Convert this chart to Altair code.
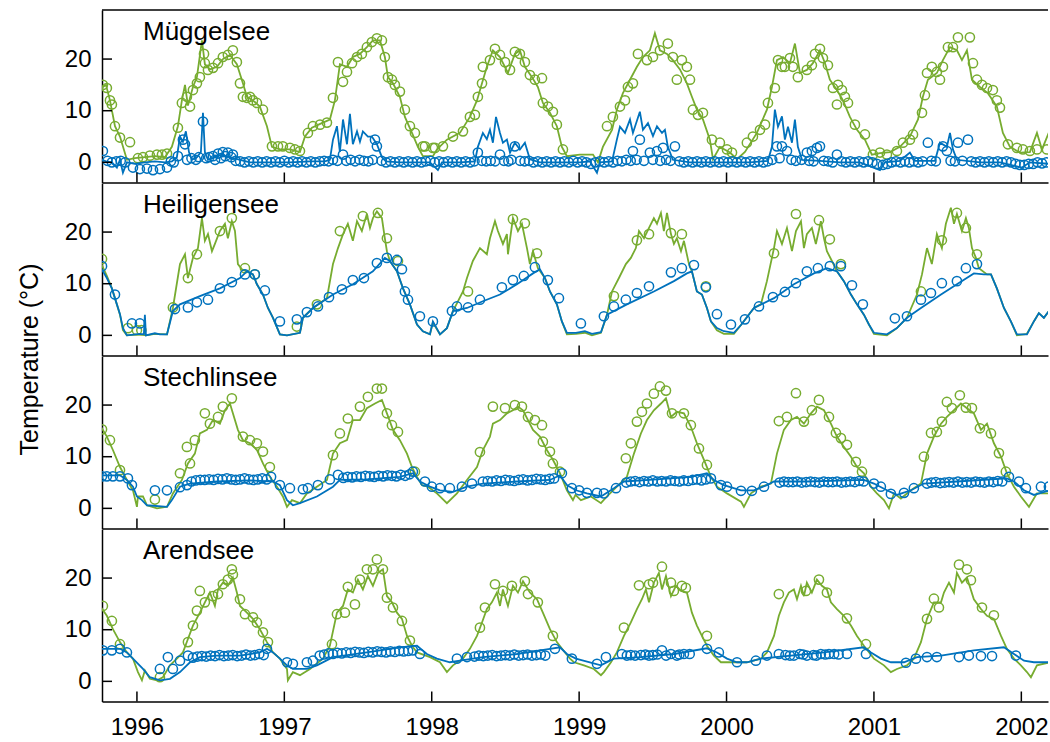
import altair as alt
import pandas as pd

# ---------------- data (time in decimal years, temperature in deg C) ----------------
YEARS = [1996, 1997, 1998, 1999, 2000, 2001, 2002]
Y_TICKS = [0, 10, 20]
LAKES = ["Müggelsee", "Heiligensee", "Stechlinsee", "Arendsee"]

# Müggelsee
MUG_SURF_MODEL = [(1995.763,14.5),(1995.790,15),(1995.817,12),(1995.851,7),(1995.885,5),(1995.932,0.5),(1995.986,0.8),(1996.054,1),(1996.122,1.2),(1996.190,1),
(1996.237,3),(1996.278,7),(1996.305,12),(1996.326,15),(1996.346,11),(1996.380,14.6),(1996.407,16.5),(1996.441,23.6),(1996.461,19),(1996.495,18),
(1996.543,18.5),(1996.583,20),(1996.631,20.8),(1996.678,19),(1996.719,15.3),(1996.746,12.7),(1996.787,12),(1996.834,10.8),(1996.882,7),(1996.916,3),
(1996.970,2.5),(1997.038,2.5),(1997.106,2),(1997.140,5),(1997.187,6.7),(1997.262,7.7),(1997.309,8.3),(1997.343,12),(1997.377,19),(1997.425,18.5),
(1997.465,20.4),(1997.513,21),(1997.560,22.3),(1997.601,23.6),(1997.649,23.6),(1997.682,20.4),(1997.703,16.5),(1997.737,15.3),(1997.784,12.7),(1997.818,8.8),
(1997.866,5.7),(1997.906,3),(1997.940,1.2),(1998.008,1.2),(1998.035,2.5),(1998.103,4.4),(1998.191,5.7),(1998.259,8.8),(1998.307,12),(1998.341,15.3),
(1998.374,18.5),(1998.415,21.7),(1998.463,20.4),(1998.517,17.3),(1998.564,21),(1998.598,21.7),(1998.632,18.5),(1998.680,16.5),(1998.720,14.6),(1998.754,11.5),
(1998.802,9.6),(1998.849,7),(1998.883,3),(1998.917,1.2),(1999.005,1.5),(1999.094,1.5),(1999.128,0),(1999.161,3),(1999.223,6.3),(1999.256,10.2),
(1999.297,13.4),(1999.345,16),(1999.392,18.5),(1999.433,20.4),(1999.480,21.7),(1999.514,25),(1999.548,21.7),(1999.596,21),(1999.636,19.8),(1999.684,18),
(1999.731,15.3),(1999.765,12.7),(1999.799,10.2),(1999.840,8.3),(1999.887,4.4),(1999.908,0.6),(1999.955,3),(2000.023,1.9),(2000.071,0.6),(2000.125,2),
(2000.206,5.7),(2000.274,10.2),(2000.308,14.6),(2000.342,19.8),(2000.383,20.4),(2000.430,19.2),(2000.464,23),(2000.498,17.3),(2000.545,17.9),(2000.586,19.2),
(2000.634,21.7),(2000.668,19.2),(2000.701,16),(2000.749,14),(2000.790,12),(2000.837,8.8),(2000.885,6.3),(2000.939,4.4),(2000.986,1.5),(2001.041,1.8),
(2001.109,2),(2001.176,3),(2001.244,5),(2001.299,8.3),(2001.332,12.7),(2001.366,16),(2001.427,17.3),(2001.468,19.8),(2001.516,22.3),(2001.563,21.7),
(2001.597,19.8),(2001.631,21.7),(2001.665,16),(2001.719,14.6),(2001.773,13.4),(2001.834,10.8),(2001.875,5.7),(2001.923,3),(2001.990,1.9),(2002.058,2),
(2002.106,5.7),(2002.140,2.5),(2002.194,6.3)]

MUG_BOT_MODEL = [(1995.763,0.5),(1995.790,0.2),(1995.830,0),(1995.864,-1),(1995.885,0.5),(1995.905,-2),(1995.932,0),(1995.986,-0.3),(1996.054,0),(1996.122,0.2),
(1996.190,0),(1996.237,0.2),(1996.271,1),(1996.292,5),(1996.312,4),(1996.332,6),(1996.353,2),(1996.373,0.5),(1996.407,1),(1996.434,2),
(1996.448,9.6),(1996.461,2),(1996.482,0.5),(1996.529,1),(1996.577,1.5),(1996.631,1),(1996.699,0.5),(1996.767,0),(1996.902,0),(1997.038,0),
(1997.174,0.2),(1997.275,0.2),(1997.309,0.5),(1997.330,4.4),(1997.357,7),(1997.377,2),(1997.398,8.3),(1997.425,3.5),(1997.445,9.4),(1997.465,3.5),
(1997.493,6),(1997.513,4),(1997.533,6),(1997.567,5),(1997.594,5),(1997.628,3.5),(1997.662,1),(1997.689,0.2),(1997.784,0),(1997.920,0),
(1997.988,0),(1998.042,-1.5),(1998.069,0),(1998.191,0),(1998.293,0.2),(1998.313,3),(1998.347,5.7),(1998.374,4.5),(1998.395,6.3),(1998.415,3.8),
(1998.436,8.8),(1998.463,5.7),(1998.483,3.8),(1998.510,4.4),(1998.531,1.9),(1998.564,3.8),(1998.598,2.5),(1998.632,3.8),(1998.666,0.6),(1998.734,0),
(1998.870,0),(1999.005,0),(1999.073,0.2),(1999.121,-2),(1999.141,0),(1999.223,0.2),(1999.256,4.4),(1999.277,6.9),(1999.311,5.7),(1999.345,8.3),
(1999.365,5.7),(1999.412,9.8),(1999.433,6.3),(1999.467,7.6),(1999.501,5.1),(1999.528,7),(1999.562,5.7),(1999.582,6.3),(1999.602,3),(1999.636,0.5),
(1999.752,0),(1999.887,0),(2000.023,0),(2000.159,0),(2000.281,0.3),(2000.308,3),(2000.328,10.2),(2000.349,6.9),(2000.376,8.9),(2000.396,4.4),
(2000.417,6.9),(2000.444,3.8),(2000.464,8.3),(2000.484,3),(2000.512,0.5),(2000.634,0.3),(2000.769,0),(2000.905,0),(2001.041,-1.5),(2001.075,0),
(2001.176,0.3),(2001.244,1.9),(2001.278,0.3),(2001.414,0.3),(2001.448,3.8),(2001.495,3),(2001.516,5.7),(2001.536,2.5),(2001.563,0.5),(2001.719,0),
(2001.855,0),(2002.004,-1),(2002.058,0),(2002.194,-0.3)]

MUG_SURF_OBS = [(1995.769,15),(1995.796,14.4),(1995.817,12),(1995.830,11.2),(1995.851,7),(1995.885,4.8),(1995.953,3.9),(1996.007,0.8),(1996.041,1),(1996.088,1.3),
(1996.136,1.5),(1996.170,1.5),(1996.204,1.7),(1996.278,6.7),(1996.305,11.5),(1996.339,12.7),(1996.360,10.8),(1996.380,14),(1996.407,15.3),(1996.427,16.5),
(1996.455,21),(1996.461,19.2),(1996.482,17.9),(1996.516,18.3),(1996.550,19.2),(1996.583,20.4),(1996.617,20.8),(1996.651,21.7),(1996.678,19.4),(1996.699,15.3),
(1996.719,12.7),(1996.746,12.5),(1996.767,12.7),(1996.787,12),(1996.814,11.5),(1996.855,10.2),(1996.916,3.1),(1996.957,3.1),(1996.990,3.1),(1997.038,2.8),
(1997.072,2.5),(1997.106,2.2),(1997.160,5.7),(1997.194,7),(1997.242,7.3),(1997.289,7.7),(1997.330,12.5),(1997.364,19.4),(1997.398,15.6),(1997.425,17.5),
(1997.459,19.2),(1997.493,20.4),(1997.526,21),(1997.560,22.3),(1997.594,23.3),(1997.628,24),(1997.662,23.6),(1997.682,20.4),(1997.703,16.5),(1997.730,16),
(1997.750,15),(1997.784,13.7),(1997.818,10.2),(1997.852,7),(1997.886,5.7),(1997.940,3.1),(1997.954,3.1),(1998.008,2.8),(1998.022,2.8),(1998.076,3.1),
(1998.144,5),(1998.212,6),(1998.259,8.8),(1998.293,9.2),(1998.313,12.7),(1998.341,15.3),(1998.347,18.5),(1998.395,19.8),(1998.429,22),(1998.463,20.8),
(1998.497,19.4),(1998.531,17.9),(1998.564,21.4),(1998.598,21),(1998.632,19.4),(1998.666,16.9),(1998.700,16),(1998.748,16.3),(1998.754,11.5),(1998.788,10.8),
(1998.822,9.8),(1998.849,7.3),(1998.890,2.5),(1999.189,7),(1999.229,8.8),(1999.277,10.8),(1999.311,12),(1999.331,14.6),(1999.365,15.3),(1999.399,21),
(1999.460,19.8),(1999.501,20.4),(1999.548,21.7),(1999.602,23),(1999.636,20.4),(1999.663,16),(1999.697,19.8),(1999.731,18.5),(1999.752,16),(1999.772,10.2),
(1999.806,9.2),(1999.840,9.6),(1999.901,4.4),(1999.955,3.8),(2000.003,2.5),(2000.037,1.9),(2000.138,3.8),(2000.179,5),(2000.227,6.3),(2000.261,7.3),
(2000.281,11.5),(2000.328,14.4),(2000.349,19.8),(2000.376,18.5),(2000.396,18.5),(2000.430,20.2),(2000.450,18.5),(2000.484,16.5),(2000.545,17.9),(2000.579,18.8),
(2000.600,21),(2000.634,22),(2000.654,20.2),(2000.688,18.8),(2000.722,14.4),(2000.749,11.2),(2000.756,15),(2000.783,14),(2000.803,12.7),(2000.824,11.5),
(2000.871,7.3),(2000.939,5.4),(2000.993,1.5),(2001.041,1.9),(2001.088,1.5),(2001.156,2.2),(2001.197,3.8),(2001.244,4.4),(2001.265,5.4),(2001.326,9.6),
(2001.346,13),(2001.360,17.3),(2001.393,18.5),(2001.427,17.5),(2001.448,16),(2001.468,18.5),(2001.502,22.3),(2001.536,22.3),(2001.570,24.2),(2001.651,24.2),
(2001.672,19.2),(2001.699,16),(2001.733,15),(2001.767,14.4),(2001.807,14),(2001.834,12),(2001.855,10.6),(2001.909,3.5),(2001.970,2.8),(2002.011,2.5),
(2002.058,2.2),(2002.106,2.5),(2002.174,2.5)]

MUG_BOT_OBS_RAISED = [(1995.769,2.2),(1995.973,-1),(1996.020,-1.3),(1996.068,-1.2),(1996.109,-1.5),(1996.156,-1.3),(1996.204,-1),(1996.278,1.2),(1996.312,4.4),(1996.326,3.5),
(1996.448,7.9),(1996.516,1.2),(1996.550,1.7),(1996.583,2),(1996.617,1.9),(1996.651,1.5),(1997.398,1.5),(1997.615,4.4),(1997.628,3.1),(1998.313,1.9),
(1998.463,1.5),(1998.564,3.1),(1999.365,2.2),(1999.412,4.4),(1999.480,1.9),(1999.528,2.2),(1999.569,2.8),(1999.650,3.1),(2000.342,3.1),(2000.376,3.1),
(2000.410,2.2),(2000.545,1.9),(2000.579,2.2),(2000.613,2.8),(2000.634,3.1),(2000.749,1.5),(2001.366,3.8),(2001.468,3.1),(2001.495,2.2),(2001.570,3.8),
(2001.638,4.4)]

MUG_BOT_OBS_BASE = [(1995.80,0.3),(1995.83,0),(1995.86,0.2),(1995.89,0.3),(1995.92,0),(1996.23,0.2),(1996.25,0),(1996.34,0.5),(1996.37,0.8),(1996.40,0.5),
(1996.42,1),(1996.47,0.8),(1996.49,1),(1996.53,0.5),(1996.57,0.8),(1996.60,1.2),(1996.64,1),(1996.67,0.3),(1996.70,0.2),(1996.73,0),
(1996.76,0.2),(1996.79,0),(1996.82,0.2),(1996.85,0),(1996.88,0.2),(1996.91,0),(1996.94,0.2),(1996.97,0),(1997.00,0.3),(1997.03,0),
(1997.06,0.2),(1997.09,0),(1997.12,0.2),(1997.15,0),(1997.18,0.2),(1997.21,0),(1997.24,0.2),(1997.27,0.3),(1997.30,0.2),(1997.33,0.5),
(1997.36,0.3),(1997.42,0.3),(1997.45,0.5),(1997.48,0.2),(1997.51,0.5),(1997.54,0.3),(1997.57,0.2),(1997.60,0.5),(1997.66,0.3),(1997.69,0),
(1997.72,0.2),(1997.75,0),(1997.78,0.2),(1997.81,0),(1997.84,0.2),(1997.87,0),(1997.90,0.2),(1997.93,0),(1997.96,0.2),(1997.99,0.3),
(1998.02,0),(1998.05,0.2),(1998.08,0),(1998.11,0.2),(1998.14,0),(1998.17,0.2),(1998.20,0),(1998.23,0.2),(1998.26,0),(1998.29,0.2),
(1998.34,0.3),(1998.37,0.2),(1998.40,0.3),(1998.43,0.2),(1998.49,0.3),(1998.52,0.2),(1998.54,0.5),(1998.60,0.3),(1998.63,0.2),(1998.66,0.3),
(1998.69,0),(1998.72,0.2),(1998.75,0),(1998.78,0.2),(1998.81,0),(1998.84,0.2),(1998.87,0),(1998.90,0.2),(1998.93,0),(1998.96,0.3),
(1998.99,0),(1999.02,0.2),(1999.05,0),(1999.08,-0.3),(1999.11,0),(1999.14,0.2),(1999.17,0),(1999.20,0.2),(1999.23,0),(1999.26,0.3),
(1999.29,0.2),(1999.32,0.5),(1999.35,0.3),(1999.39,0.5),(1999.44,0.3),(1999.50,0.5),(1999.55,0.3),(1999.59,0.5),(1999.62,0.3),(1999.68,0.2),
(1999.71,0),(1999.74,0.2),(1999.77,0),(1999.80,0.2),(1999.83,0),(1999.86,0.2),(1999.89,0),(1999.92,0.2),(1999.95,0),(1999.98,0.2),
(2000.01,0),(2000.04,0.2),(2000.07,0),(2000.10,0.2),(2000.13,0),(2000.16,0.2),(2000.19,0),(2000.22,0.2),(2000.25,0),(2000.28,0.2),
(2000.31,0.5),(2000.36,0.8),(2000.44,0.5),(2000.47,0.3),(2000.51,0.5),(2000.56,0.3),(2000.59,0.2),(2000.66,0.3),(2000.69,0.2),(2000.72,0),
(2000.78,0.2),(2000.81,0),(2000.84,0.2),(2000.87,0),(2000.90,0.2),(2000.93,0),(2000.96,0.2),(2000.99,0),(2001.02,-0.3),(2001.06,-0.5),
(2001.09,-0.3),(2001.12,0),(2001.15,0.2),(2001.18,0),(2001.21,0.2),(2001.24,0),(2001.27,0.2),(2001.30,0),(2001.33,0.2),(2001.39,0.3),
(2001.42,0.2),(2001.52,0.3),(2001.55,0.2),(2001.60,0.3),(2001.66,0.2),(2001.69,0),(2001.72,0.2),(2001.75,0),(2001.78,0.2),(2001.81,0),
(2001.84,0.2),(2001.87,0),(2001.90,0.2),(2001.93,0),(2001.96,-0.3),(2001.99,-0.5),(2002.02,-0.5),(2002.05,-0.3),(2002.08,-0.3),(2002.11,0),
(2002.14,-0.2),(2002.17,0)]

# Heiligensee
HEI_SURF_MODEL = [(1995.749,14.4),(1995.796,11.5),(1995.830,9.1),(1995.864,6),(1995.885,4),(1995.905,1),(1995.932,0),(1996.020,0.2),(1996.061,0),(1996.122,0.3),
(1996.204,0.2),(1996.244,5.3),(1996.292,13.8),(1996.326,15.7),(1996.346,11.1),(1996.380,15),(1996.414,16.9),(1996.441,22.7),(1996.461,18.3),(1996.482,19.6),
(1996.509,16.3),(1996.529,17.7),(1996.563,20.2),(1996.597,21.6),(1996.617,18.8),(1996.644,22.1),(1996.665,20.2),(1996.685,13.8),(1996.712,12.8),(1996.746,12.4),
(1996.787,11.8),(1996.814,9.9),(1996.855,7.9),(1996.889,5.3),(1996.923,3.4),(1996.970,0.2),(1997.018,0),(1997.106,0.5),(1997.126,3.4),(1997.194,5.3),
(1997.289,7.2),(1997.330,13.8),(1997.364,16.9),(1997.398,19.6),(1997.431,21.6),(1997.465,18.3),(1997.493,22.1),(1997.526,20.2),(1997.560,23.5),(1997.581,20.8),
(1997.601,22.7),(1997.628,24),(1997.662,22.7),(1997.682,18.8),(1997.696,16.3),(1997.716,14.4),(1997.764,12.4),(1997.805,9.1),(1997.852,6),(1997.900,2.1),
(1997.940,0.8),(1997.988,0.2),(1998.008,2.5),(1998.056,0.2),(1998.103,1.4),(1998.144,4.7),(1998.212,8.5),(1998.239,11.1),(1998.279,14.4),(1998.327,16.9),
(1998.374,15.7),(1998.395,18.8),(1998.429,22.1),(1998.449,20.2),(1998.483,17.7),(1998.510,19.6),(1998.517,15.7),(1998.551,22.7),(1998.585,20.2),(1998.612,21.6),
(1998.646,16.9),(1998.666,13.8),(1998.687,16.3),(1998.720,13),(1998.768,11.1),(1998.802,8.5),(1998.849,6),(1998.883,2.7),(1998.917,0.2),(1998.978,0.3),
(1999.039,0.5),(1999.087,0),(1999.148,0.5),(1999.189,4),(1999.223,8.5),(1999.270,11.1),(1999.317,13.8),(1999.351,15),(1999.385,16.9),(1999.406,20.2),
(1999.440,18.8),(1999.474,20.8),(1999.507,22.7),(1999.528,21.6),(1999.555,23.7),(1999.575,20.2),(1999.596,23.7),(1999.623,19.6),(1999.643,17.7),(1999.663,18.8),
(1999.691,16.3),(1999.711,18.3),(1999.745,13.8),(1999.765,12.4),(1999.799,8.5),(1999.833,7.9),(1999.867,5.3),(1999.894,2.7),(1999.935,1),(1999.982,0.3),
(2000.050,0.3),(2000.098,2),(2000.186,5.3),(2000.233,6),(2000.274,10.5),(2000.322,16.9),(2000.342,20.2),(2000.376,17.7),(2000.410,20.8),(2000.444,16.3),
(2000.471,20.2),(2000.505,22.1),(2000.525,16.9),(2000.545,19.6),(2000.579,20.8),(2000.606,17.7),(2000.640,22.1),(2000.661,18.8),(2000.681,16.3),(2000.715,14.4),
(2000.749,12.4),(2000.796,10.5),(2000.844,7.9),(2000.885,6),(2000.932,4),(2000.966,2.1),(2001.000,0.3),(2001.088,0),(2001.156,1.4),(2001.224,3.4),
(2001.292,7.9),(2001.326,11.8),(2001.360,16.9),(2001.393,13.8),(2001.427,19.6),(2001.461,16.9),(2001.488,21.6),(2001.522,24.7),(2001.543,21.6),(2001.563,23.5),
(2001.597,20.2),(2001.624,22.7),(2001.644,20.8),(2001.665,16.9),(2001.692,15),(2001.712,13),(2001.767,11.8),(2001.794,11.8),(2001.834,9.1),(2001.882,5.3),
(2001.929,2.7),(2001.970,0),(2002.038,0.3),(2002.085,2.7),(2002.119,4.3),(2002.153,3.4),(2002.194,5)]

HEI_BOT_MODEL = [(1995.749,13.4),(1995.796,11.1),(1995.830,9.1),(1995.864,6),(1995.885,4.1),(1995.905,1.4),(1995.932,0),(1996.020,0.3),(1996.047,0.2),(1996.054,4),
(1996.061,0),(1996.122,0.4),(1996.156,0.2),(1996.204,0.2),(1996.244,4.7),(1996.292,6),(1996.427,7.6),(1996.563,9.1),(1996.699,11.1),(1996.746,12.4),
(1996.787,11.8),(1996.814,9.9),(1996.855,7.9),(1996.889,5.3),(1996.923,3.4),(1996.970,0.2),(1997.018,0),(1997.106,0.5),(1997.126,3.4),(1997.194,5.3),
(1997.330,7.9),(1997.465,9.9),(1997.601,12.4),(1997.682,15),(1997.716,14.4),(1997.764,12.4),(1997.805,9.1),(1997.852,6),(1997.900,2.1),(1997.940,0.8),
(1997.988,0.2),(1998.008,2.7),(1998.056,0.2),(1998.103,1.4),(1998.144,4.7),(1998.239,5.3),(1998.347,6.6),(1998.463,7.9),(1998.578,9.9),(1998.687,12),
(1998.734,12.8),(1998.768,11.1),(1998.802,8.5),(1998.849,6),(1998.883,2.7),(1998.917,0.5),(1998.978,0.5),(1999.039,0.8),(1999.087,0.3),(1999.148,0.6),
(1999.189,4),(1999.324,6),(1999.507,8.5),(1999.643,10.5),(1999.731,12),(1999.765,12.4),(1999.799,8.5),(1999.833,7.9),(1999.867,5.3),(1999.894,2.7),
(1999.935,1.4),(1999.982,0.8),(2000.050,0.5),(2000.098,2),(2000.186,5.3),(2000.322,7.2),(2000.457,9.9),(2000.593,12),(2000.681,13),(2000.749,12.4),
(2000.796,10.5),(2000.844,7.9),(2000.885,6),(2000.932,4),(2000.966,2.1),(2001.000,0.5),(2001.088,0.2),(2001.156,1.4),(2001.224,3.4),(2001.319,5.3),
(2001.455,7.9),(2001.563,9.9),(2001.678,12),(2001.746,11.8),(2001.794,11.8),(2001.834,9.1),(2001.882,5.3),(2001.929,2.7),(2001.970,0.2),(2002.038,0.2),
(2002.085,2.7),(2002.119,4.3),(2002.153,3.4),(2002.194,5)]

HEI_SURF_OBS = [(1995.763,14.8),(1995.939,1.4),(1996.000,1),(1996.030,1),(1996.244,5.4),(1996.346,11.1),(1996.407,15.7),(1996.563,20.2),(1996.644,22.7),(1996.733,13),
(1996.800,11.8),(1997.085,1.7),(1997.221,6),(1997.377,20.2),(1997.533,23.1),(1997.635,23.7),(1997.696,18.8),(1997.771,14.4),(1998.246,8.5),(1998.551,22.5),
(1998.632,21.7),(1998.714,15.9),(1999.236,7.6),(1999.392,18.4),(1999.474,19.6),(1999.623,19.8),(1999.697,19.6),(1999.860,9.5),(2000.322,15.9),(2000.471,23.5),
(2000.627,22.3),(2000.701,18.6),(2000.776,13.8),(2001.319,8.5),(2001.461,18.4),(2001.563,23.7),(2001.624,20.8),(2001.699,15.7)]

HEI_BOT_OBS = [(1995.763,13.4),(1995.851,7.9),(1995.966,2.3),(1996.020,2.3),(1996.258,5.1),(1996.346,5.4),(1996.407,6.4),(1996.482,6.9),(1996.563,9.1),(1996.644,10.3),
(1996.733,11.8),(1996.800,11.8),(1996.868,8.7),(1996.970,2.7),(1997.085,3.1),(1997.153,4.5),(1997.228,5.6),(1997.303,7.4),(1997.391,8.9),(1997.465,10.7),
(1997.540,11.1),(1997.628,14),(1997.696,15),(1997.764,14.6),(1997.798,12.8),(1997.818,8.5),(1997.839,6.9),(1997.920,3.7),(1998.008,2.7),(1998.137,4.7),
(1998.171,5.6),(1998.246,5.4),(1998.327,6.9),(1998.476,9.3),(1998.551,10.7),(1998.625,11.5),(1998.700,13.2),(1998.788,10.7),(1998.863,7.2),(1999.012,2.3),
(1999.168,3.7),(1999.236,5.6),(1999.317,6.9),(1999.392,8.2),(1999.474,9.5),(1999.623,12.2),(1999.697,13),(1999.779,13.6),(1999.860,9.3),(1999.935,4.1),
(2000.030,2.1),(2000.125,3.1),(2000.220,5.6),(2000.315,7.4),(2000.396,8.4),(2000.471,10.1),(2000.545,12.4),(2000.620,13),(2000.701,13.4),(2000.776,13.4),
(2000.851,9.7),(2000.925,6),(2001.142,3.3),(2001.224,3.7),(2001.319,6.9),(2001.387,8.2),(2001.461,10.1),(2001.563,10.5),(2001.624,13),(2001.699,13.8)]

# Stechlinsee
STE_SURF_MODEL = [(1995.749,16.1),(1995.796,13.9),(1995.837,11.3),(1995.885,8),(1995.932,5.5),(1995.973,3.5),(1996.000,0.3),(1996.007,2.3),(1996.041,2.3),(1996.068,0.6),
(1996.136,0),(1996.204,0.3),(1996.244,2.9),(1996.305,5.5),(1996.346,8.7),(1996.393,10.6),(1996.427,14.5),(1996.475,15.2),(1996.516,17.1),(1996.563,16.4),
(1996.597,19),(1996.631,20.3),(1996.651,18.4),(1996.685,15.2),(1996.719,13.2),(1996.767,12.6),(1996.814,11.3),(1996.855,8.7),(1996.902,6.1),(1996.950,4.2),
(1996.990,2.3),(1997.018,0.3),(1997.052,1.6),(1997.106,1),(1997.153,2.9),(1997.289,5.5),(1997.330,10.6),(1997.377,12.6),(1997.425,13.2),(1997.465,17.1),
(1997.513,17.1),(1997.560,19.4),(1997.615,20.3),(1997.662,21),(1997.696,18.4),(1997.737,15.2),(1997.784,13.2),(1997.832,10.6),(1997.866,8),(1997.900,6.1),
(1997.934,4.5),(1997.974,4.2),(1998.035,2.9),(1998.103,1),(1998.171,2.9),(1998.239,5.5),(1998.307,8),(1998.347,11.3),(1998.395,13.9),(1998.415,16.4),
(1998.463,17.1),(1998.510,18.4),(1998.551,19),(1998.585,19.7),(1998.619,19),(1998.653,17.1),(1998.687,15.2),(1998.734,13.9),(1998.781,11.3),(1998.822,9.4),
(1998.870,6.8),(1998.917,3.5),(1998.958,1.6),(1998.975,2.6),(1999.012,1.6),(1999.080,2.3),(1999.148,1),(1999.189,2.3),(1999.256,4.2),(1999.324,6.1),
(1999.372,10.6),(1999.419,14.5),(1999.460,17.1),(1999.507,19),(1999.555,20.3),(1999.589,21.3),(1999.623,17.7),(1999.663,18.7),(1999.711,18.4),(1999.758,15.8),
(1999.799,12.6),(1999.847,9.4),(1999.894,6.1),(1999.935,4.2),(2000.003,2.9),(2000.098,1.3),(2000.118,0.3),(2000.166,2.9),(2000.233,4.2),(2000.301,4.8),
(2000.342,10.6),(2000.389,15.2),(2000.437,17.1),(2000.478,17.7),(2000.525,16.4),(2000.573,18.4),(2000.613,19.7),(2000.661,19),(2000.708,16.4),(2000.749,13.9),
(2000.796,11.9),(2000.844,10),(2000.885,8),(2000.932,6.8),(2000.980,4.2),(2001.020,2.9),(2001.068,1.6),(2001.102,0),(2001.136,2.9),(2001.183,1.9),
(2001.251,3.5),(2001.319,4.8),(2001.360,10.6),(2001.407,13.9),(2001.455,16.4),(2001.495,17.7),(2001.543,19),(2001.590,20.3),(2001.631,19.4),(2001.678,18.4),
(2001.726,15.2),(2001.767,16.4),(2001.814,12.6),(2001.862,10),(2001.902,6.8),(2001.950,4.2),(2001.997,2.3),(2002.052,0.3),(2002.106,2.9),(2002.194,2.9)]

STE_BOT_MODEL = [(1995.749,6.4),(1995.885,6.4),(1995.932,5.5),(1995.973,4.2),(1996.000,2.3),(1996.034,1.6),(1996.068,0.6),(1996.204,0.3),(1996.237,1.6),(1996.292,4.2),
(1996.360,4.8),(1996.543,5.2),(1996.767,5.4),(1996.923,5.2),(1996.970,4.5),(1997.018,1.6),(1997.058,0.6),(1997.106,1),(1997.221,2.3),(1997.330,4.2),
(1997.377,5.5),(1997.560,5.6),(1997.784,6.1),(1997.872,6.8),(1997.920,5.2),(1997.988,4.2),(1998.056,3.5),(1998.144,3.2),(1998.239,4.2),(1998.347,4.8),
(1998.578,5.2),(1998.802,5.5),(1998.870,6.4),(1998.917,4.5),(1998.978,3.5),(1999.053,2.9),(1999.148,2.3),(1999.236,3.9),(1999.304,5.2),(1999.528,5.6),
(1999.758,6.1),(1999.867,6.8),(1999.914,5.5),(1999.982,4.5),(2000.098,3.5),(2000.186,3.5),(2000.274,4.5),(2000.322,5.2),(2000.545,5.2),(2000.932,5.5),
(2001.000,4.8),(2001.088,3.5),(2001.156,2.6),(2001.251,3.5),(2001.339,4.8),(2001.563,5.2),(2001.902,5.8),(2001.950,5.2),(2002.018,3.5),(2002.085,2.6),
(2002.194,3.5)]

STE_SURF_OBS = [(1995.763,15.3),(1995.817,13.2),(1995.885,7.4),(1996.122,1.7),(1996.292,6.8),(1996.339,11.9),(1996.360,8.7),(1996.393,13.2),(1996.461,18.4),(1996.495,16.4),
(1996.550,17.7),(1996.583,19.7),(1996.644,21.3),(1996.719,13.9),(1996.767,13.2),(1996.814,12.6),(1996.855,11),(1996.902,8),(1997.330,10.3),(1997.377,14.5),
(1997.431,17.4),(1997.513,19.7),(1997.567,21.6),(1997.628,23.2),(1997.662,23.2),(1997.696,18.4),(1997.730,16.1),(1997.771,14.8),(1997.886,7.1),(1998.327,10.9),
(1998.415,19.7),(1998.497,19.4),(1998.564,20),(1998.612,19.7),(1998.653,17.7),(1998.700,17.1),(1998.748,16.1),(1998.754,12.9),(1998.802,11),(1998.822,8.7),
(1998.870,7.1),(1999.317,9.7),(1999.351,12.6),(1999.392,16.8),(1999.426,18.7),(1999.460,20.3),(1999.507,22.2),(1999.548,23.6),(1999.589,22.8),(1999.630,18.4),
(1999.711,18.4),(1999.758,16.1),(1999.813,11.6),(1999.867,8.4),(2000.355,16.9),(2000.410,17.7),(2000.471,22.3),(2000.525,16.8),(2000.579,19),(2000.627,21),
(2000.695,17.7),(2000.742,14.6),(2000.776,13.6),(2000.817,12.3),(2000.878,9),(2000.919,7.1),(2001.339,10),(2001.387,14.6),(2001.427,14.8),(2001.461,16.8),
(2001.495,20.6),(2001.529,19.4),(2001.583,21.9),(2001.624,19.5),(2001.665,19.4),(2001.719,15.5),(2001.794,14.5),(2001.848,10.7),(2001.895,7.1)]

STE_BOT_OBS = [(1995.763,6.2),(1995.796,6.2),(1995.837,6.2),(1995.885,6.2),(1995.939,5.8),(1995.966,4.5),(1996.122,3.5),(1996.204,3.5),(1996.292,4.1),(1996.339,4.5),
(1996.37,5.2),(1996.40,5.4),(1996.43,5.5),(1996.46,5.5),(1996.49,5.6),(1996.52,5.5),(1996.55,5.7),(1996.58,5.6),(1996.61,5.8),(1996.64,5.6),
(1996.67,5.5),(1996.70,5.6),(1996.73,5.8),(1996.76,5.6),(1996.79,5.5),(1996.82,5.6),(1996.85,5.8),(1996.88,5.6),(1996.91,6.1),(1996.970,4.5),
(1997.038,3.9),(1997.126,3.7),(1997.160,3.9),(1997.228,4.5),(1997.309,5.6),(1997.364,6.5),(1997.40,5.9),(1997.43,6.1),(1997.46,6),(1997.49,6.2),
(1997.52,6.1),(1997.55,6.3),(1997.58,6.2),(1997.61,6.1),(1997.64,6.3),(1997.67,6.2),(1997.70,6.4),(1997.73,6.3),(1997.76,6.2),(1997.79,6.5),
(1997.82,6.3),(1997.85,6.6),(1997.872,7.1),(1997.954,5.2),(1998.001,4.2),(1998.056,3.9),(1998.123,3.9),(1998.205,4.2),(1998.273,4.8),(1998.347,5.2),
(1998.38,5.3),(1998.41,5.2),(1998.44,5.4),(1998.47,5.3),(1998.50,5.5),(1998.53,5.4),(1998.56,5.3),(1998.59,5.5),(1998.62,5.6),(1998.65,5.4),
(1998.68,5.5),(1998.71,5.7),(1998.74,5.6),(1998.77,5.5),(1998.80,5.7),(1998.83,5.8),(1998.883,6.8),(1998.951,3.9),(1999.000,3.5),(1999.053,3),
(1999.121,3),(1999.168,2.9),(1999.250,3.9),(1999.32,5),(1999.35,5.2),(1999.38,5.3),(1999.41,5.1),(1999.44,5.3),(1999.47,5.2),(1999.50,5.4),
(1999.53,5.2),(1999.56,5.3),(1999.59,5.2),(1999.62,5.4),(1999.65,5.3),(1999.68,5.2),(1999.71,5.4),(1999.74,5.3),(1999.77,5.5),(1999.80,5.6),
(1999.83,5.4),(1999.86,5.6),(1999.894,5.8),(1999.962,4.5),(2000.003,4.2),(2000.098,3.4),(2000.172,3.4),(2000.254,4.2),(2000.36,5),(2000.39,5.2),
(2000.42,5.1),(2000.45,5.1),(2000.48,5.2),(2000.51,5),(2000.54,5.1),(2000.57,5.2),(2000.60,5.1),(2000.63,5),(2000.66,5.2),(2000.69,5.1),
(2000.72,5.1),(2000.75,5.2),(2000.78,5),(2000.81,5.1),(2000.84,5.2),(2000.87,5.1),(2000.90,5.3),(2000.93,5.2),(2001.000,4.8),(2001.047,4.2),
(2001.115,2.8),(2001.204,3),(2001.271,3.9),(2001.36,4.8),(2001.39,5),(2001.42,5.1),(2001.45,4.9),(2001.48,5),(2001.51,5.1),(2001.54,5),
(2001.57,5.2),(2001.60,5),(2001.63,5.1),(2001.66,5),(2001.69,5.2),(2001.72,5.1),(2001.75,5),(2001.78,5.2),(2001.81,5.1),(2001.84,5.3),
(2001.87,5.2),(2001.916,6.1),(2001.984,5.2),(2002.031,3.9),(2002.133,4.2),(2002.187,4.2)]

# Arendsee
ARE_SURF_MODEL = [(1995.749,14.6),(1995.796,12.7),(1995.837,10.1),(1995.885,7.6),(1995.932,5.6),(1995.973,4.4),(1996.007,1.8),(1996.034,0.2),(1996.054,2.1),(1996.088,0.5),
(1996.136,0.2),(1996.176,0.8),(1996.224,3.1),(1996.271,4.4),(1996.312,5.6),(1996.346,8.2),(1996.380,10.8),(1996.427,13.3),(1996.461,15.3),(1996.495,17.2),
(1996.529,14.6),(1996.550,17.8),(1996.583,19.1),(1996.617,18.5),(1996.651,20.1),(1996.678,17.2),(1996.699,14.6),(1996.746,13.3),(1996.787,12.1),(1996.834,10.1),
(1996.882,7.6),(1996.923,5.6),(1996.970,4.4),(1997.018,2.4),(1997.024,0.2),(1997.058,1.8),(1997.106,1.2),(1997.174,2.4),(1997.262,4.4),(1997.309,6.9),
(1997.357,13.3),(1997.398,14.6),(1997.431,17.8),(1997.465,17.2),(1997.499,19.7),(1997.533,17.8),(1997.567,20.4),(1997.601,18.5),(1997.635,21),(1997.669,21.7),
(1997.696,16.5),(1997.730,15.3),(1997.764,13.3),(1997.798,12.1),(1997.832,8.8),(1997.866,6.9),(1997.900,5.6),(1997.988,4.7),(1998.056,3.7),(1998.103,1.8),
(1998.144,3.1),(1998.212,4.4),(1998.259,6.3),(1998.307,8.8),(1998.341,11.4),(1998.374,14),(1998.408,15.3),(1998.442,17.2),(1998.463,14.6),(1998.483,17.8),
(1998.517,14.6),(1998.551,18.5),(1998.585,17.2),(1998.619,19.4),(1998.666,17.2),(1998.714,15.9),(1998.754,13.3),(1998.802,10.1),(1998.849,7.6),(1998.904,5.6),
(1998.938,4.4),(1998.965,3.7),(1999.033,3.1),(1999.100,2.4),(1999.148,1.2),(1999.168,1.8),(1999.216,3.7),(1999.256,5.6),(1999.304,8.8),(1999.351,11.4),
(1999.392,14),(1999.426,15.9),(1999.453,17.8),(1999.474,15.3),(1999.507,19.1),(1999.541,21),(1999.562,17.8),(1999.589,20.4),(1999.623,16.5),(1999.657,18.5),
(1999.691,17.5),(1999.731,17.2),(1999.765,13.3),(1999.799,10.8),(1999.833,8.8),(1999.867,6.9),(1999.914,5),(1999.962,3.7),(2000.071,3.7),(2000.138,3.7),
(2000.233,4.4),(2000.274,5.6),(2000.322,8.8),(2000.355,12.7),(2000.389,15.3),(2000.423,17.2),(2000.457,17.8),(2000.478,15.9),(2000.505,18.5),(2000.525,16.5),
(2000.545,19.1),(2000.579,17.2),(2000.613,19.7),(2000.647,18.5),(2000.681,17.8),(2000.708,15.3),(2000.749,14),(2000.796,12.7),(2000.844,10.8),(2000.885,8.8),
(2000.932,6.9),(2001.000,4.4),(2001.068,3.1),(2001.115,1.8),(2001.156,2.4),(2001.224,3.1),(2001.271,4.4),(2001.319,7.6),(2001.360,12.1),(2001.407,15.3),
(2001.455,15.3),(2001.475,17.2),(2001.509,19.1),(2001.543,17.2),(2001.563,21),(2001.597,19.1),(2001.631,20.1),(2001.678,15.9),(2001.726,14),(2001.767,12.7),
(2001.814,12.1),(2001.862,8.8),(2001.902,6.3),(2001.950,4.4),(2001.997,3.1),(2002.038,1.8),(2002.065,0.8),(2002.106,3.1),(2002.194,3.7)]

ARE_BOT_MODEL = [(1995.749,6.3),(1995.885,6.3),(1995.932,5.6),(1995.973,4.4),(1996.041,2.4),(1996.088,0.8),(1996.156,0.2),(1996.224,0.5),(1996.292,1.8),(1996.360,3.7),
(1996.427,4.7),(1996.543,5),(1996.699,5),(1996.834,5.6),(1996.882,6.3),(1996.923,5.6),(1996.970,4.4),(1997.018,3.1),(1997.058,2.4),(1997.153,2.4),
(1997.221,3.1),(1997.330,4.7),(1997.560,5.6),(1997.784,6.6),(1997.900,6.9),(1997.967,5.3),(1998.035,4.4),(1998.123,3.7),(1998.191,4),(1998.347,4.7),
(1998.578,5.3),(1998.802,6.3),(1998.870,6.6),(1998.917,5.3),(1998.978,4.4),(1999.148,3.1),(1999.236,4.4),(1999.419,4.7),(1999.643,5.3),(1999.867,6.4),
(1999.935,5.6),(2000.003,4.4),(2000.071,3.7),(2000.138,3.7),(2000.233,4.4),(2000.437,5),(2000.661,5.6),(2000.932,6.6),(2000.980,5.6),(2001.047,4.4),
(2001.115,3.7),(2001.204,3.7),(2001.292,4.7),(2001.455,5),(2001.678,6),(2001.882,6.6),(2001.950,5.3),(2002.018,4),(2002.085,3.7),(2002.194,3.7)]

ARE_SURF_OBS = [(1995.769,14.6),(1995.830,11.7),(1995.885,7.2),(1996.156,0.8),(1996.346,7.6),(1996.380,10.8),(1996.407,13.7),(1996.427,17.5),(1996.461,15.3),(1996.516,16.5),
(1996.550,16.9),(1996.583,18.8),(1996.617,19.7),(1996.644,21.7),(1996.651,20.7),(1996.699,15.9),(1996.733,13),(1996.787,12.4),(1996.814,11.4),(1996.855,9.5),
(1996.889,7.6),(1997.323,7.2),(1997.357,13),(1997.411,13.3),(1997.431,18.3),(1997.479,14.9),(1997.513,19.7),(1997.560,21.7),(1997.601,21.7),(1997.628,23.6),
(1997.669,21.7),(1997.696,16.2),(1997.737,14.3),(1997.798,11.7),(1997.852,7.9),(1998.327,10.4),(1998.361,14.3),(1998.429,18.8),(1998.483,17.5),(1998.544,18.5),
(1998.632,19.4),(1998.653,16.9),(1998.720,15.3),(1998.822,8.8),(1999.304,10.4),(1999.406,18.6),(1999.474,18.8),(1999.501,19.1),(1999.562,22.2),(1999.623,19.1),
(1999.643,17.5),(1999.697,18.5),(1999.724,18.1),(1999.867,8.8),(2000.355,16.9),(2000.539,17.5),(2000.627,19.7),(2000.681,17.2),(2000.817,12.2),(2000.946,7.2),
(2001.360,12.1),(2001.407,16),(2001.441,14.3),(2001.577,22.6),(2001.631,21.7),(2001.658,19.6),(2001.733,14.3),(2001.814,12.8)]

ARE_BOT_OBS = [(1995.769,6),(1995.830,6),(1995.885,6.3),(1995.932,5.6),(1996.156,2.4),(1996.210,4.7),(1996.244,2.4),(1996.292,4),(1996.346,5),(1996.38,4.6),
(1996.41,4.8),(1996.44,4.9),(1996.47,4.8),(1996.50,5),(1996.53,4.9),(1996.56,5.1),(1996.59,4.9),(1996.62,5),(1996.65,5.1),(1996.68,4.9),
(1996.71,5),(1996.74,5.2),(1996.77,5),(1996.80,5.1),(1996.83,5.3),(1996.86,5.1),(1996.882,6.3),(1997.018,3.7),(1997.058,3.4),(1997.153,3.7),
(1997.194,4),(1997.24,5),(1997.27,5.2),(1997.30,5.4),(1997.33,5.3),(1997.36,5.5),(1997.39,5.4),(1997.42,5.6),(1997.45,5.5),(1997.48,5.7),
(1997.51,5.6),(1997.54,5.5),(1997.57,5.7),(1997.60,5.6),(1997.63,5.8),(1997.66,5.7),(1997.69,5.6),(1997.72,5.8),(1997.75,5.7),(1997.78,5.9),
(1997.81,5.8),(1997.84,5.9),(1997.872,6),(1997.920,5.3),(1998.171,4.4),(1998.239,4.7),(1998.29,4.8),(1998.32,5),(1998.35,4.9),(1998.38,5),
(1998.41,5.1),(1998.44,4.9),(1998.47,5),(1998.50,5.1),(1998.53,5),(1998.56,5.2),(1998.59,5),(1998.62,5.1),(1998.65,5.2),(1998.68,5),
(1998.71,5.1),(1998.74,5.2),(1998.77,5),(1998.836,6.3),(1998.951,4.4),(1999.121,3.4),(1999.182,4.7),(1999.290,5.3),(1999.324,5),(1999.35,5.1),
(1999.38,5),(1999.419,5.1),(1999.45,5.2),(1999.474,5),(1999.50,5.1),(1999.53,5.2),(1999.562,6),(1999.59,5),(1999.623,5.3),(1999.663,5),
(1999.68,5.2),(1999.711,5.3),(1999.75,5.3),(1999.867,6.3),(1999.948,5.6),(2000.071,3.7),(2000.199,4),(2000.274,5),(2000.355,5.3),(2000.40,5.1),
(2000.43,5),(2000.457,5),(2000.498,5.3),(2000.52,5.2),(2000.545,5),(2000.59,5.1),(2000.61,5),(2000.640,5.3),(2000.67,5.2),(2000.695,5.3),
(2000.73,5.3),(2000.76,5.2),(2000.817,5.3),(2000.946,5.3),(2001.217,3.6),(2001.285,4.4),(2001.360,4.7),(2001.427,4.7),(2001.577,4.7),(2001.644,5),
(2001.726,4.9),(2001.801,4.9),(2001.963,5)]

# ---------------- styling ----------------
GREEN = "#77AC30"
BLUE = "#0072BD"
FONT = "Liberation Sans"
W, H = 946, 172.5
PX_PER_YEAR = 147.4
XMIN = 1995.763
XMAX = XMIN + W / PX_PER_YEAR
YMIN, YMAX = -3.9, 29.5
TICK_LEN = 10
MARK_SIZE = 85

XS = alt.Scale(domain=[XMIN, XMAX], nice=False, zero=False)
YS = alt.Scale(domain=[YMIN, YMAX], nice=False, zero=False)


def frame(pairs):
    return pd.DataFrame(pairs, columns=["t", "v"])


def panel(name, surf_model, bot_model, surf_obs, bot_obs, first=False, last=False, ytitle=False):
    xenc = alt.X("t:Q", scale=XS, axis=alt.Axis(values=YEARS, format="d", labels=last, ticks=False,
                                               grid=False, domain=True, domainColor="black", domainWidth=1.5,
                                               labelFontSize=24, labelFont=FONT, labelColor="black",
                                               labelPadding=14, labelFlush=False, labelOverlap=False, title=None))
    yenc = alt.Y("v:Q", scale=YS, axis=alt.Axis(values=Y_TICKS, ticks=False, grid=False, domain=True,
                                               domainColor="black", domainWidth=1.5, labelFontSize=24,
                                               labelFont=FONT, labelColor="black", labelPadding=11,
                                               labelOverlap=False, title=None))
    one = pd.DataFrame({"a": [0]})
    layers = [
        alt.Chart(frame(surf_model)).mark_line(color=GREEN, strokeWidth=1.8, clip=True).encode(x=xenc, y=yenc),
        alt.Chart(frame(surf_obs)).mark_point(shape="circle", filled=False, color=GREEN, size=MARK_SIZE,
                                               strokeWidth=1.5, opacity=1, clip=True).encode(x=xenc, y=yenc),
        alt.Chart(frame(bot_model)).mark_line(color=BLUE, strokeWidth=1.8, clip=True).encode(x=xenc, y=yenc),
        alt.Chart(frame(bot_obs)).mark_point(shape="circle", filled=False, color=BLUE, size=MARK_SIZE,
                                              strokeWidth=1.5, opacity=1, clip=True).encode(x=xenc, y=yenc),
        # inward ticks
        alt.Chart(pd.DataFrame({"t": YEARS})).mark_rule(color="black", strokeWidth=1.5).encode(
            x=xenc, y=alt.value(H), y2=alt.value(H - TICK_LEN)),
        alt.Chart(pd.DataFrame({"v": Y_TICKS})).mark_rule(color="black", strokeWidth=1.5).encode(
            y=yenc, x=alt.value(0), x2=alt.value(TICK_LEN)),
        alt.Chart(one).mark_text(text=name, align="left", baseline="alphabetic", fontSize=26,
                                 font=FONT, color="black").encode(x=alt.value(41), y=alt.value(30)),
    ]
    if first:
        layers.append(alt.Chart(one).mark_rule(color="black", strokeWidth=1.5).encode(
            x=alt.value(0), x2=alt.value(W), y=alt.value(0)))
        # white spacer that reserves the left margin
        layers.append(alt.Chart(one).mark_rule(color="white", strokeWidth=1).encode(
            x=alt.value(-101.5), x2=alt.value(-100.5), y=alt.value(H / 2)))
    if ytitle:
        layers.append(alt.Chart(one).mark_text(text="Temperature  (°C)", angle=270, align="center",
                                               baseline="middle", fontSize=25, font=FONT,
                                               color="black").encode(x=alt.value(-72), y=alt.value(H + 4)))
    return alt.layer(*layers).properties(width=W, height=H)


p1 = panel(LAKES[0], MUG_SURF_MODEL, MUG_BOT_MODEL, MUG_SURF_OBS, MUG_BOT_OBS_RAISED + MUG_BOT_OBS_BASE, first=True)
p2 = panel(LAKES[1], HEI_SURF_MODEL, HEI_BOT_MODEL, HEI_SURF_OBS, HEI_BOT_OBS, ytitle=True)
p3 = panel(LAKES[2], STE_SURF_MODEL, STE_BOT_MODEL, STE_SURF_OBS, STE_BOT_OBS)
p4 = panel(LAKES[3], ARE_SURF_MODEL, ARE_BOT_MODEL, ARE_SURF_OBS, ARE_BOT_OBS, last=True)

chart = alt.vconcat(p1, p2, p3, p4, spacing=0, bounds="flush").properties(
    padding={"left": 0, "top": 9, "right": 0, "bottom": 0}
).configure_view(stroke=None)

chart.save("out.html", embed_options={"renderer": "svg", "actions": False})
